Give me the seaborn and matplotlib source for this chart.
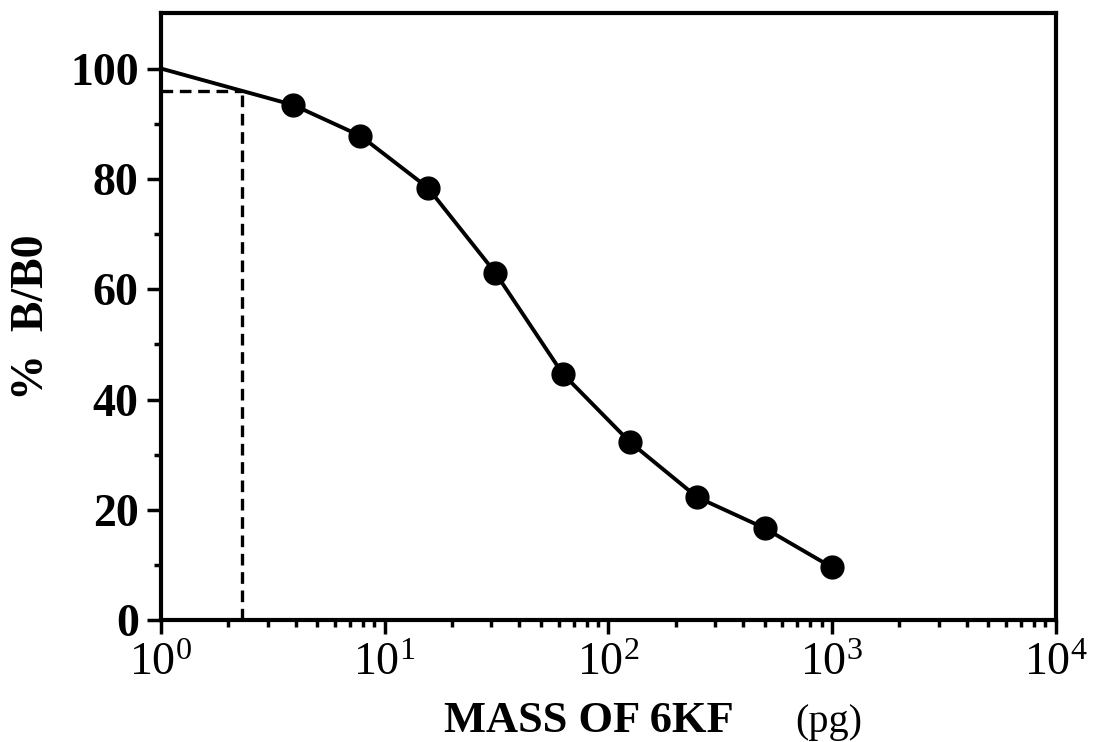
import matplotlib
matplotlib.use("Agg")
import matplotlib.pyplot as plt
import seaborn as sns
import numpy as np
import pandas as pd
from matplotlib.ticker import LogLocator, FixedLocator, NullFormatter

# Data
mass_pg = [1.0, 3.9, 7.8, 15.6, 31.25, 62.5, 125, 250, 500, 1000]
pct_b_b0 = [100.0, 93.4, 87.8, 78.4, 63.0, 44.7, 32.3, 22.3, 16.7, 9.6]
marker_mask = [False, True, True, True, True, True, True, True, True, True]
dash_x = 2.3
dash_y = 96.0
x_tick_vals = [1, 10, 100, 1000, 10000]
x_tick_labels = [r"$10^{0}$", r"$10^{1}$", r"$10^{2}$", r"$10^{3}$", r"$10^{4}$"]
y_tick_vals = [0, 20, 40, 60, 80, 100]

sns.set_theme(style="ticks")
plt.rcParams["font.family"] = ["Liberation Serif", "DejaVu Serif"]
plt.rcParams["mathtext.fontset"] = "custom"
plt.rcParams["mathtext.rm"] = "Liberation Serif"
plt.rcParams["mathtext.it"] = "Liberation Serif"

df = pd.DataFrame({"mass": mass_pg, "pct": pct_b_b0, "m": marker_mask})

fig = plt.figure(figsize=(10.95, 7.42), dpi=100)
ax = fig.add_axes([0.147, 0.164, 0.817, 0.818])

sns.lineplot(data=df, x="mass", y="pct", color="black", linewidth=2.8, ax=ax)
sns.scatterplot(data=df[df["m"]], x="mass", y="pct", color="black", s=270,
                edgecolor="black", linewidth=1, ax=ax, zorder=3)

ax.plot([1, dash_x], [dash_y, dash_y], color="black", linestyle=(0, (3.5, 2)), linewidth=2.4)
ax.plot([dash_x, dash_x], [0, dash_y], color="black", linestyle=(0, (3.5, 2)), linewidth=2.4)

ax.set_xscale("log")
ax.set_xlim(1, 10000)
ax.set_ylim(0, 110)

ax.xaxis.set_major_locator(FixedLocator(x_tick_vals))
ax.set_xticklabels(x_tick_labels)
ax.xaxis.set_minor_locator(LogLocator(base=10, subs=np.arange(2, 10), numticks=20))
ax.xaxis.set_minor_formatter(NullFormatter())
ax.set_yticks(y_tick_vals)
ax.set_yticks(list(range(10, 110, 20)), minor=True)

for tl in ax.get_yticklabels():
    tl.set_fontweight("bold")
ax.tick_params(axis="both", which="major", length=10, width=2.5,
               direction="out", color="black", labelcolor="black")
ax.tick_params(axis="y", which="major", labelsize=33, pad=6)
ax.tick_params(axis="x", which="major", labelsize=33, pad=6)
ax.tick_params(axis="both", which="minor", length=5, width=2.5, direction="out", color="black")

for s in ax.spines.values():
    s.set_linewidth(3)
    s.set_color("black")

ax.set_xlabel("")
ax.set_ylabel("%  B/B0", fontsize=33, fontweight="bold", labelpad=12, color="black")

fig.text(0.538, 0.002, "MASS OF 6KF", fontsize=32, fontweight="bold", ha="center", va="bottom", color="black")
fig.text(0.757, 0.002, "(pg)", fontsize=29, ha="center", va="bottom", color="black")

fig.savefig("out.png", dpi=100, facecolor="white")
